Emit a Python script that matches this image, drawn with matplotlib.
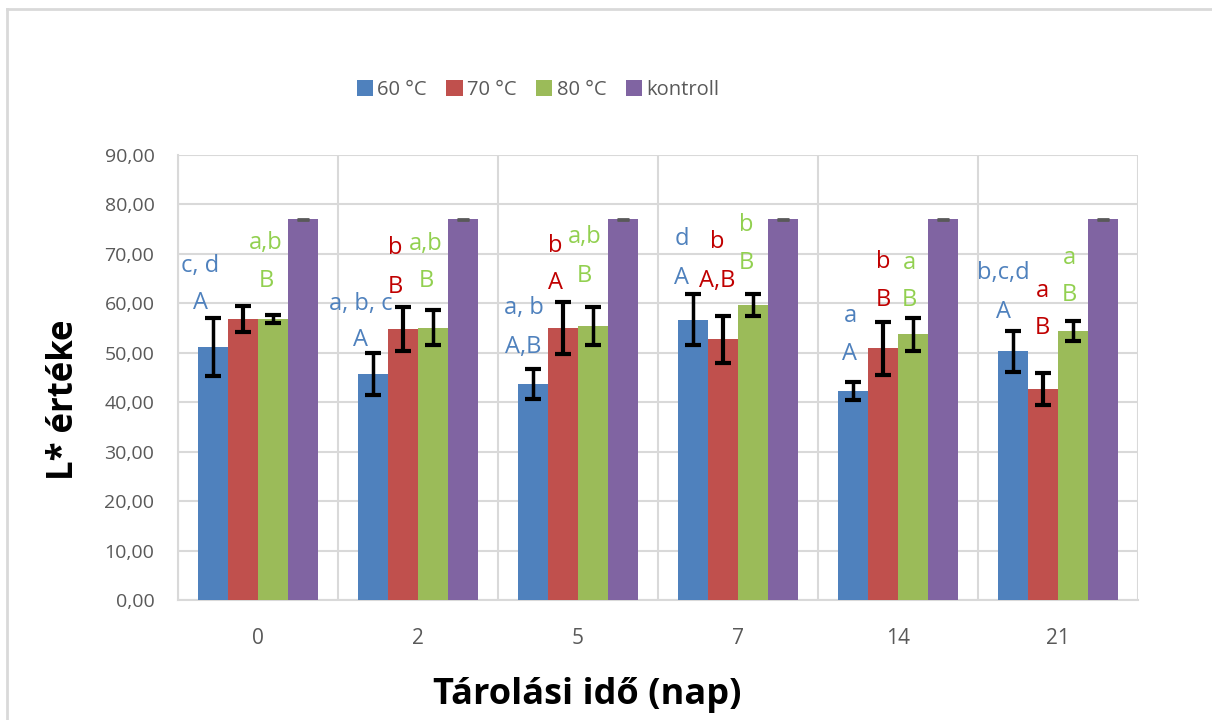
import matplotlib
matplotlib.use("Agg")
import matplotlib.pyplot as plt
import numpy as np
from matplotlib.lines import Line2D
from matplotlib.patches import Patch

days = ["0", "2", "5", "7", "14", "21"]
series_names = ["60 °C", "70 °C", "80 °C", "kontroll"]
v60 = [51.2, 45.7, 43.7, 56.7, 42.3, 50.3]
v70 = [56.8, 54.8, 55.0, 52.7, 50.9, 42.7]
v80 = [56.9, 55.1, 55.4, 59.6, 53.7, 54.4]
vkon = [77.0, 77.0, 77.0, 77.0, 77.0, 77.0]
e60 = [5.9, 4.3, 3.1, 5.2, 1.8, 4.2]
e70 = [2.6, 4.4, 5.2, 4.7, 5.4, 3.2]
e80 = [0.8, 3.6, 3.8, 2.2, 3.3, 2.1]
ekon = [0.15, 0.15, 0.15, 0.15, 0.15, 0.15]

# significance letters (lower = between days, upper = between temperatures)
lower60 = ["c, d", "a, b, c", "a, b", "d", "a", "b,c,d"]
upper60 = ["A", "A", "A,B", "A", "A", "A"]
lower70 = ["", "b", "b", "b", "b", "a"]
upper70 = ["", "B", "A", "A,B", "B", "B"]
lower80 = ["a,b", "a,b", "a,b", "b", "a", "a"]
upper80 = ["B", "B", "B", "B", "B", "B"]

colors = ["#4F81BD", "#C0504D", "#9BBB59", "#8064A2"]
txt_colors = ["#4F81BD", "#C00000", "#92D050"]

plt.rcParams['font.family'] = ['Open Sans', 'DejaVu Sans']

fig = plt.figure(figsize=(12.12, 7.2), dpi=100)
ax = fig.add_axes([178/1212, 1 - 600/720, (1138-178)/1212, (600-155)/720])

x = np.arange(len(days))
w = 0.186
offs = [-1.5*w, -0.5*w, 0.5*w, 1.5*w]
vals = [v60, v70, v80, vkon]
errs = [e60, e70, e80, ekon]
for i in range(4):
    ax.bar(x + offs[i], vals[i], width=w, color=colors[i], zorder=3,
           edgecolor='none')
for i in range(3):
    ax.errorbar(x + offs[i], vals[i], yerr=errs[i], fmt='none',
                ecolor='black', elinewidth=3 if i == 1 else 2.5,
                capsize=6, capthick=3, zorder=4)
ax.errorbar(x + offs[3], vkon, yerr=ekon, fmt='none', ecolor='#595959',
            elinewidth=1, capsize=4, capthick=2, zorder=4)

ax.set_xlim(-0.5, 5.5)
ax.set_ylim(0, 90)
ax.set_yticks(np.arange(0, 91, 10))
ax.set_yticklabels([f"{v:.2f}".replace('.', ',') for v in np.arange(0, 91, 10)])
ax.set_xticks(x)
ax.set_xticklabels(days)
ax.set_xticks(np.arange(-0.5, 6, 1), minor=True)
ax.tick_params(axis='both', which='both', length=0, labelcolor='#595959')
ax.tick_params(axis='x', pad=20, labelsize=15)
ax.tick_params(axis='y', pad=17, labelsize=14)
ax.grid(axis='y', which='major', color='#D9D9D9', linewidth=1.5, zorder=0)
ax.grid(axis='x', which='minor', color='#D9D9D9', linewidth=1.5, zorder=0)
for s in ax.spines.values():
    s.set_color('#D9D9D9')
    s.set_linewidth(1.5)
ax.spines['top'].set_visible(False)
ax.spines['right'].set_visible(False)

ax.set_ylabel("L* értéke", fontsize=25, fontweight='bold')
ax.yaxis.set_label_coords(-0.100, 0.449)
ax.set_xlabel("Tárolási idő (nap)", fontsize=26, fontweight='bold')
ax.xaxis.set_label_coords(0.426, -0.172)

# annotation positions (data coords) for letters
lx60 = [-0.36, -0.36, -0.34, -0.35, -0.30, -0.34]
ly60_l = [67.6, 59.9, 59.0, 73.0, 57.4, 66.2]
ly60_u = [60.1, 52.6, 51.2, 65.2, 49.8, 58.3]
lx70 = [-0.14, -0.14, -0.14, -0.13, -0.09, -0.10]
ly70_l = [0, 71.1, 71.6, 72.5, 68.4, 62.4]
ly70_u = [0, 63.4, 64.1, 64.6, 60.7, 55.0]
lx80 = [0.05, 0.05, 0.04, 0.05, 0.07, 0.07]
ly80_l = [72.2, 72.0, 73.4, 75.9, 68.1, 69.1]
ly80_u = [64.6, 64.5, 65.5, 68.1, 60.7, 61.7]

fs = 17
for k in range(6):
    for lab, lx, ly, c in [(lower60[k], lx60[k], ly60_l[k], txt_colors[0]),
                           (upper60[k], lx60[k], ly60_u[k], txt_colors[0]),
                           (lower70[k], lx70[k], ly70_l[k], txt_colors[1]),
                           (upper70[k], lx70[k], ly70_u[k], txt_colors[1]),
                           (lower80[k], lx80[k], ly80_l[k], txt_colors[2]),
                           (upper80[k], lx80[k], ly80_u[k], txt_colors[2])]:
        if lab:
            ax.text(k + lx, ly, lab, color=c, fontsize=fs, ha='center',
                    va='center', zorder=5)

handles = [Patch(facecolor=colors[i], edgecolor='none') for i in range(4)]
leg = fig.legend(handles, series_names, loc='center', ncol=4,
                 bbox_to_anchor=(538/1212, 1 - 90/720), frameon=False,
                 fontsize=14.5, handlelength=0.8, handleheight=0.8,
                 handletextpad=0.2, columnspacing=1.0)
for t in leg.get_texts():
    t.set_color('#595959')

# outer chart border
fig.add_artist(Line2D([7/1212, 7/1212], [0, 1 - 9/720], transform=fig.transFigure,
                      color='#D9D9D9', linewidth=2))
fig.add_artist(Line2D([7/1212, 1], [1 - 9/720, 1 - 9/720], transform=fig.transFigure,
                      color='#D9D9D9', linewidth=2))

fig.savefig("out.png", dpi=100)
